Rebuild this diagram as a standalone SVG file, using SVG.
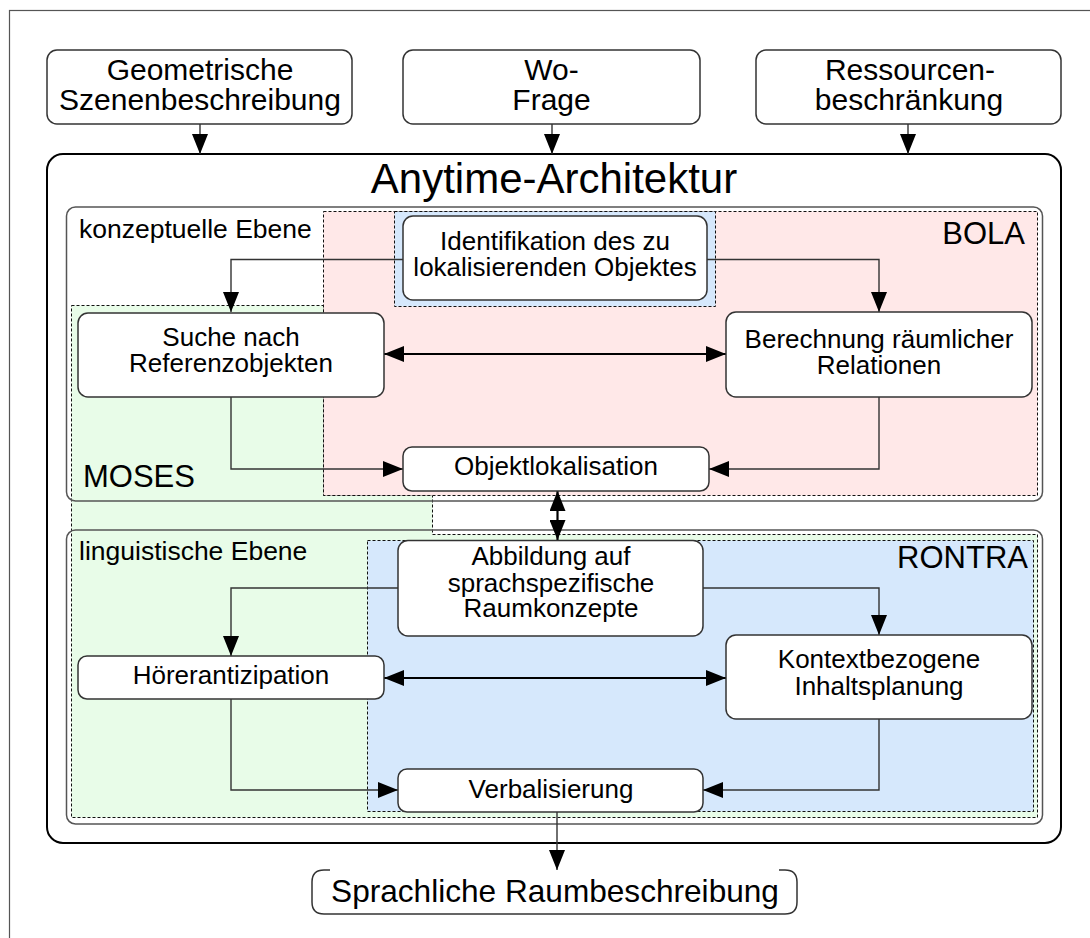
<svg xmlns="http://www.w3.org/2000/svg" width="1090" height="938" viewBox="0 0 1090 938">
  <style>
    text { font-family: "Liberation Sans", Arial, sans-serif; fill: #000; }
    .io { font-size: 30px; text-anchor: middle; }
    .node-text { font-size: 26px; text-anchor: middle; }
    .level-label { font-size: 26.5px; }
    .module-label { font-size: 31px; }
    .title { font-size: 42px; text-anchor: middle; }
    .node { fill: #fff; stroke: #333; stroke-width: 1.5; }
    .level { fill: none; stroke: #555; stroke-width: 1.5; }
    .module { stroke: #111; stroke-width: 1; stroke-dasharray: 3 2; }
    .link { fill: none; stroke: #333; stroke-width: 1.4; }
    .link2 { fill: none; stroke: #000; stroke-width: 2.2; }
  </style>
  <defs>
    <marker id="arrow" viewBox="0 0 20 16" refX="20" refY="8" markerWidth="20" markerHeight="16" markerUnits="userSpaceOnUse" orient="auto-start-reverse">
      <path d="M0,0 L20,8 L0,16 Z" fill="#000"/>
    </marker>
  </defs>

  <rect width="1090" height="938" fill="#fff"/>
  <!-- page frame -->
  <rect x="9.5" y="10.5" width="1200" height="1000" fill="none" stroke="#555" stroke-width="1.2"/>

  <!-- main architecture container -->
  <g id="anytime">
    <rect x="47" y="154" width="1014" height="689" rx="16" fill="#fff" stroke="#000" stroke-width="2"/>
    <text class="title" x="554" y="193">Anytime-Architektur</text>
  </g>

  <!-- module regions -->
  <g id="moses-region">
    <polygon class="module" fill="#e8fce8" points="71.5,305.5 323.5,305.5 323.5,495.5 432.5,495.5 432.5,534.5 1037.5,534.5 1037.5,817.5 71.5,817.5"/>
  </g>
  <g id="bola-region">
    <rect class="module" fill="#ffe8e8" x="323.5" y="211.5" width="714" height="284"/>
  </g>
  <g id="ident-region">
    <rect class="module" fill="#d6e8fc" x="394.5" y="211.5" width="321" height="95"/>
  </g>
  <g id="rontra-region">
    <rect class="module" fill="#d6e8fc" x="367.5" y="540.5" width="666" height="271"/>
  </g>

  <!-- processing levels -->
  <g id="konzeptuelle-ebene">
    <rect class="level" x="66.5" y="207" width="976" height="294" rx="9"/>
    <text class="level-label" x="79" y="238">konzeptuelle Ebene</text>
  </g>
  <g id="linguistische-ebene">
    <rect class="level" x="66.5" y="530" width="976" height="294" rx="9"/>
    <text class="level-label" x="79" y="560">linguistische Ebene</text>
  </g>

  <text class="module-label" x="1025" y="244" text-anchor="end">BOLA</text>
  <text class="module-label" x="83" y="487">MOSES</text>
  <text class="module-label" x="1028" y="568" text-anchor="end">RONTRA</text>

  <!-- connectors -->
  <g id="connectors">
    <line class="link" x1="200" y1="124" x2="200" y2="154" marker-end="url(#arrow)"/>
    <line class="link" x1="552" y1="124" x2="552" y2="154" marker-end="url(#arrow)"/>
    <line class="link" x1="908" y1="124" x2="908" y2="154" marker-end="url(#arrow)"/>

    <polyline class="link" points="403,259.5 231,259.5 231,312" marker-end="url(#arrow)"/>
    <polyline class="link" points="707,259.5 879,259.5 879,312" marker-end="url(#arrow)"/>
    <line class="link2" x1="384" y1="354" x2="726" y2="354" marker-start="url(#arrow)" marker-end="url(#arrow)"/>
    <polyline class="link" points="231,397 231,469 403,469" marker-end="url(#arrow)"/>
    <polyline class="link" points="879,397 879,469 709,469" marker-end="url(#arrow)"/>

    <line class="link2" x1="557.5" y1="491" x2="557.5" y2="540" marker-start="url(#arrow)" marker-end="url(#arrow)"/>

    <polyline class="link" points="398,588 231,588 231,656" marker-end="url(#arrow)"/>
    <polyline class="link" points="703,588 879,588 879,635" marker-end="url(#arrow)"/>
    <line class="link2" x1="384" y1="678" x2="726" y2="678" marker-start="url(#arrow)" marker-end="url(#arrow)"/>
    <polyline class="link" points="231,699 231,790 398,790" marker-end="url(#arrow)"/>
    <polyline class="link" points="879,719 879,790 703,790" marker-end="url(#arrow)"/>

    <line class="link" x1="557" y1="812" x2="557" y2="870" marker-end="url(#arrow)"/>
  </g>

  <!-- inputs -->
  <g id="geometrische-szenenbeschreibung">
    <rect class="node" x="47" y="50" width="305" height="74" rx="10"/>
    <text class="io" x="200" y="80">Geometrische</text>
    <text class="io" x="200" y="110">Szenenbeschreibung</text>
  </g>
  <g id="wo-frage">
    <rect class="node" x="403" y="50" width="297" height="74" rx="10"/>
    <text class="io" x="551.5" y="80">Wo-</text>
    <text class="io" x="551.5" y="110">Frage</text>
  </g>
  <g id="ressourcenbeschraenkung">
    <rect class="node" x="756" y="50" width="305" height="74" rx="10"/>
    <text class="io" x="910" y="80">Ressourcen-</text>
    <text class="io" x="909" y="110">beschränkung</text>
  </g>

  <!-- conceptual level nodes -->
  <g id="identifikation">
    <rect class="node" x="403" y="216" width="304" height="84" rx="10"/>
    <text class="node-text" x="555" y="250">Identifikation des zu</text>
    <text class="node-text" x="555" y="276">lokalisierenden Objektes</text>
  </g>
  <g id="suche-referenzobjekte">
    <rect class="node" x="78" y="313" width="306" height="84" rx="10"/>
    <text class="node-text" x="231" y="346">Suche nach</text>
    <text class="node-text" x="231" y="372">Referenzobjekten</text>
  </g>
  <g id="berechnung-relationen">
    <rect class="node" x="726" y="312" width="306" height="85" rx="10"/>
    <text class="node-text" x="879" y="348">Berechnung räumlicher</text>
    <text class="node-text" x="879" y="374">Relationen</text>
  </g>
  <g id="objektlokalisation">
    <rect class="node" x="403" y="447" width="306" height="44" rx="9"/>
    <text class="node-text" x="556" y="475">Objektlokalisation</text>
  </g>

  <!-- linguistic level nodes -->
  <g id="abbildung-raumkonzepte">
    <rect class="node" x="398" y="540.5" width="305" height="95.5" rx="10"/>
    <text class="node-text" x="551" y="565">Abbildung auf</text>
    <text class="node-text" x="551" y="592">sprachspezifische</text>
    <text class="node-text" x="551" y="617">Raumkonzepte</text>
  </g>
  <g id="hoererantizipation">
    <rect class="node" x="78" y="656" width="306" height="43" rx="9"/>
    <text class="node-text" x="231" y="684">Hörerantizipation</text>
  </g>
  <g id="inhaltsplanung">
    <rect class="node" x="726" y="635" width="306" height="84" rx="10"/>
    <text class="node-text" x="879" y="668">Kontextbezogene</text>
    <text class="node-text" x="879" y="695">Inhaltsplanung</text>
  </g>
  <g id="verbalisierung">
    <rect class="node" x="398" y="769" width="305" height="43" rx="9"/>
    <text class="node-text" x="551" y="798">Verbalisierung</text>
  </g>

  <!-- output -->
  <g id="sprachliche-raumbeschreibung">
    <path class="node" fill="none" d="M330,870 L324,870 Q312,870 312,882 L312,902 Q312,914 324,914 L785,914 Q797,914 797,902 L797,882 Q797,870 785,870 L779,870"/>
    <text x="555" y="902" font-size="31.6" text-anchor="middle">Sprachliche Raumbeschreibung</text>
  </g>
</svg>
